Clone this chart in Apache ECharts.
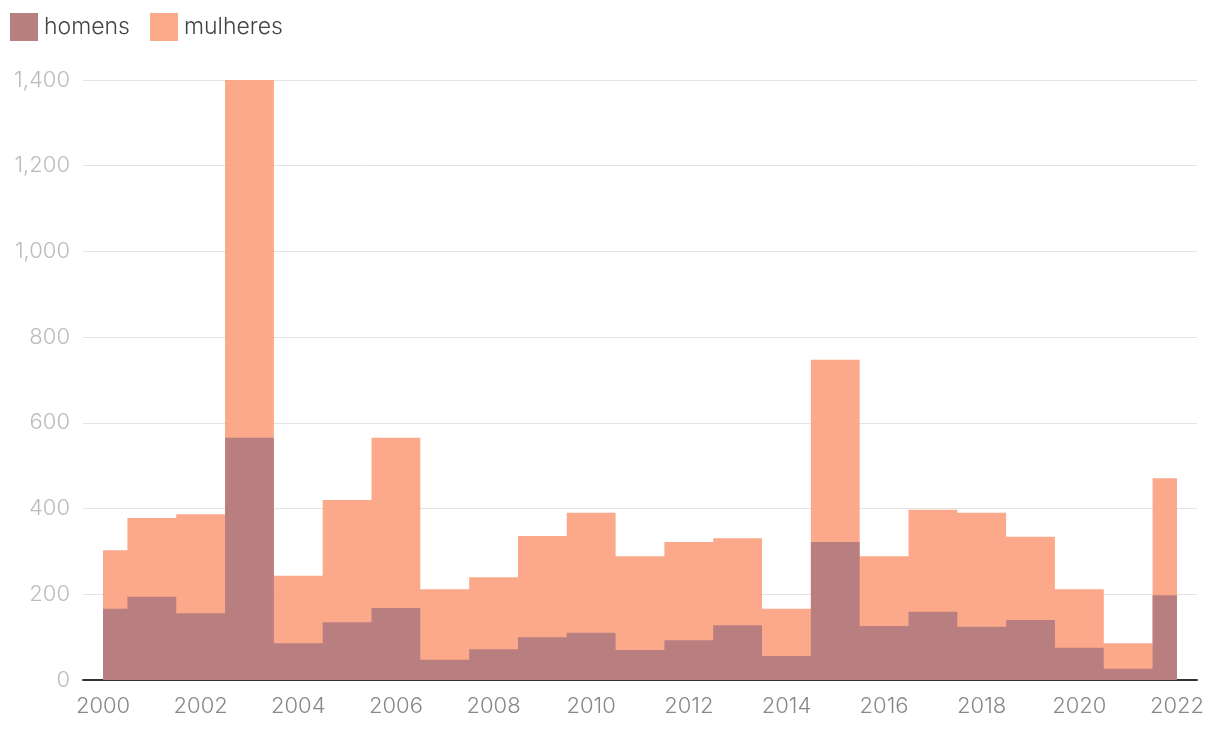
<!DOCTYPE html>
<html>
<head>
<meta charset="utf-8">
<script src="https://cdn.jsdelivr.net/npm/echarts@6/dist/echarts.min.js"></script>
<style>html,body{margin:0;padding:0;background:#fff}#c{width:1220px;height:732px}</style>
</head>
<body>
<div id="c"></div>
<script>
const years = [2000,2001,2002,2003,2004,2005,2006,2007,2008,2009,2010,2011,2012,2013,2014,2015,2016,2017,2018,2019,2020,2021,2022];
const homens = [166,194,156,565,86,135,168,47,72,100,110,70,93,128,56,322,126,159,124,140,75,26,198];
const mulheres = [303,378,387,1400,243,420,565,212,240,336,390,289,322,331,166,747,289,397,390,334,212,86,471];
const xTicks = [2000,2002,2004,2006,2008,2010,2012,2014,2016,2018,2020,2022];

const chart = echarts.init(document.getElementById('c'));
const FONT = 'Inter';
chart.setOption({
  animation: false,
  legend: {
    left: 5, top: 8, itemWidth: 28, itemHeight: 28, itemGap: 20,
    icon: 'rect',
    textStyle: { fontFamily: FONT, fontSize: 23, fontWeight: 300, color: '#444', padding: [0,0,0,1] },
    data: ['homens', 'mulheres']
  },
  grid: { left: 83, right: 23, top: 80, bottom: 52 },
  xAxis: {
    type: 'value', min: 1999.59, max: 2022.41,
    axisLine: { show: true, lineStyle: { color: '#333', width: 2 } },
    axisTick: { show: false },
    splitLine: { show: false },
    axisLabel: {
      customValues: xTicks, margin: 15,
      fontFamily: FONT, fontSize: 22, fontWeight: 300, color: '#888',
      formatter: v => String(v)
    }
  },
  yAxis: {
    type: 'value', min: 0, max: 1400, interval: 200,
    axisLine: { show: false }, axisTick: { show: false },
    splitLine: { lineStyle: { color: '#e3e3e3', width: 1 } },
    axisLabel: {
      margin: 13, fontFamily: FONT, fontSize: 22, fontWeight: 300, color: '#bbb',
      formatter: v => v.toLocaleString('en-US')
    }
  },
  series: [
    {
      name: 'homens', type: 'line', step: 'middle', z: 3,
      data: years.map((y, i) => [y, homens[i]]),
      showSymbol: false, symbol: 'none',
      color: '#b98080',
      lineStyle: { width: 0 },
      areaStyle: { color: '#b27b7f', opacity: 0.9 }
    },
    {
      name: 'mulheres', type: 'line', step: 'middle', z: 2,
      data: years.map((y, i) => [y, mulheres[i]]),
      showSymbol: false, symbol: 'none',
      color: '#fbaa8a',
      lineStyle: { width: 0 },
      areaStyle: { color: '#fba07d', opacity: 0.9 }
    }
  ]
});
</script>
</body>
</html>
